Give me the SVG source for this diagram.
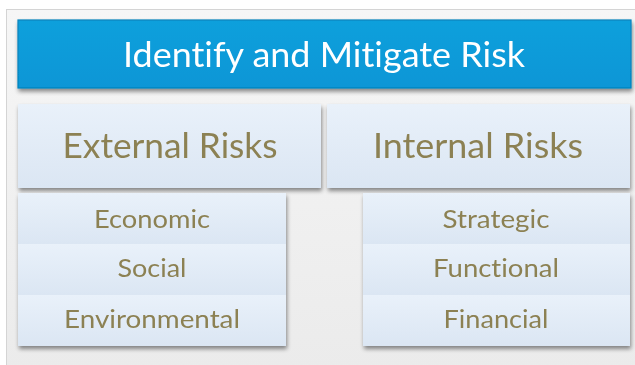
<svg xmlns="http://www.w3.org/2000/svg" width="635" height="365" viewBox="0 0 635 365">
<defs>
<linearGradient id="panel" x1="0" y1="0" x2="0" y2="1"><stop offset="0" stop-color="#f6f6f6"/><stop offset="1" stop-color="#ebebeb"/></linearGradient>
<linearGradient id="light" x1="0" y1="0" x2="0" y2="1"><stop offset="0" stop-color="#e9f1fa"/><stop offset="1" stop-color="#dbe6f3"/></linearGradient>
<linearGradient id="blue" x1="0" y1="0" x2="0" y2="1"><stop offset="0" stop-color="#0ea0dc"/><stop offset="1" stop-color="#0896d6"/></linearGradient>
<filter id="sh" x="-5%" y="-10%" width="115%" height="130%"><feGaussianBlur in="SourceAlpha" stdDeviation="2"/><feOffset dx="1" dy="3"/><feComponentTransfer><feFuncA type="linear" slope="0.45"/></feComponentTransfer><feMerge><feMergeNode/><feMergeNode in="SourceGraphic"/></feMerge></filter>
</defs>
<style>
.t{font-family:Lato,"Open Sans",sans-serif;text-anchor:middle;font-variant-ligatures:none;font-feature-settings:"liga" 0,"clig" 0}
.title{fill:#ffffff;font-size:35px}
.head{fill:#8c8152;font-size:35px}
.item{fill:#8c8152;font-size:25px}
.box{fill:url(#light)}
</style>
<rect x="0" y="0" width="635" height="365" fill="#ffffff"/>
<rect x="6.5" y="9.5" width="630" height="360" fill="url(#panel)" stroke="#d4d4d4" stroke-width="1"/>
<g id="title" filter="url(#sh)">
<rect x="18" y="20" width="613" height="68" fill="url(#blue)" stroke="#0682bb" stroke-width="1.2"/>
<text class="t title" x="324" y="67" textLength="402" lengthAdjust="spacingAndGlyphs">Identify and Mitigate Risk</text>
</g>
<g id="external" filter="url(#sh)">
<rect class="box" x="18" y="104" width="303" height="84"/>
<text class="t head" x="170" y="158" textLength="215" lengthAdjust="spacingAndGlyphs">External Risks</text>
</g>
<g id="internal" filter="url(#sh)">
<rect class="box" x="327" y="104" width="303" height="84"/>
<text class="t head" x="478" y="158" textLength="210" lengthAdjust="spacingAndGlyphs">Internal Risks</text>
</g>
<g id="external-list" filter="url(#sh)">
<rect class="box" x="18" y="193" width="268" height="51"/>
<rect class="box" x="18" y="244" width="268" height="51"/>
<rect class="box" x="18" y="295" width="268" height="51"/>
<text class="t item" x="152" y="228" textLength="116" lengthAdjust="spacingAndGlyphs">Economic</text>
<text class="t item" x="152" y="277" textLength="69" lengthAdjust="spacingAndGlyphs">Social</text>
<text class="t item" x="152" y="328" textLength="176" lengthAdjust="spacingAndGlyphs">Environmental</text>
</g>
<g id="internal-list" filter="url(#sh)">
<rect class="box" x="363" y="193" width="267" height="51"/>
<rect class="box" x="363" y="244" width="267" height="51"/>
<rect class="box" x="363" y="295" width="267" height="51"/>
<text class="t item" x="496" y="228" textLength="107" lengthAdjust="spacingAndGlyphs">Strategic</text>
<text class="t item" x="496" y="277" textLength="126" lengthAdjust="spacingAndGlyphs">Functional</text>
<text class="t item" x="496" y="328" textLength="105" lengthAdjust="spacingAndGlyphs">Financial</text>
</g>
<g id="connectors"></g>
</svg>
